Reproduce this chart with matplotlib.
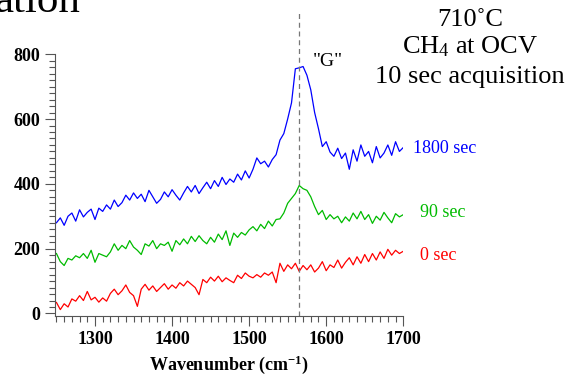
import numpy as np
import matplotlib
matplotlib.use('Agg')
import matplotlib.pyplot as plt
from matplotlib.ticker import MultipleLocator

plt.rcParams['font.family'] = ['Liberation Serif', 'DejaVu Serif']
plt.rcParams['mathtext.fontset'] = 'custom'
plt.rcParams['mathtext.rm'] = 'Liberation Serif'
plt.rcParams['mathtext.it'] = 'Liberation Serif:italic'
plt.rcParams['mathtext.bf'] = 'Liberation Serif:bold'

# Raman spectra, wavenumber 1250..1700 every 5 cm-1
wavenumber = np.arange(1250, 1701, 5)
spec_1800 = [280, 295, 272, 300, 310, 285, 320, 298, 312, 322,
             290, 325, 315, 335, 322, 350, 330, 342, 365, 350,
             372, 355, 368, 345, 380, 360, 340, 352, 375, 360,
             382, 365, 350, 372, 392, 375, 395, 370, 388, 405,
             385, 410, 392, 420, 398, 415, 405, 430, 412, 440,
             418, 445, 480, 462, 470, 452, 475, 490, 535, 555,
             600, 650, 755, 758, 762, 735, 690, 620, 570, 515,
             530, 498, 485, 510, 478, 495, 445, 505, 470, 520,
             485, 500, 465, 515, 480, 495, 520, 488, 530, 500,
             512]
spec_90 = [185, 160, 148, 170, 165, 178, 172, 185, 170, 195,
           158, 185, 180, 175, 190, 215, 195, 210, 200, 225,
           205, 195, 182, 215, 208, 225, 200, 215, 210, 220,
           192, 225, 212, 230, 215, 238, 222, 240, 225, 215,
           235, 220, 245, 228, 255, 210, 248, 235, 250, 242,
           258, 268, 255, 275, 262, 285, 270, 290, 292, 310,
           340, 355, 370, 395, 385, 380, 360, 330, 305, 318,
           290, 305, 292, 300, 280, 298, 285, 310, 292, 315,
           290, 305, 278, 300, 288, 312, 295, 280, 308, 298,
           305]
spec_0 = [34, 12, 30, 20, 45, 38, 55, 40, 68, 42,
          50, 35, 48, 38, 62, 75, 58, 70, 88, 65,
          55, 22, 75, 90, 72, 85, 68, 80, 92, 75,
          88, 78, 95, 85, 100, 90, 80, 58, 105, 95,
          112, 100, 115, 98, 110, 102, 95, 118, 108, 125,
          115, 110, 120, 112, 125, 118, 128, 95, 155, 130,
          150, 138, 155, 130, 148, 135, 150, 128, 140, 160,
          132, 150, 142, 165, 140, 158, 172, 150, 175, 155,
          182, 160, 185, 165, 190, 170, 198, 180, 195, 185,
          192]

series = [(spec_0, '#ff0000', '0 sec', 1722, 179),
          (spec_90, '#00bb00', '90 sec', 1722, 311),
          (spec_1800, '#0000ff', '1800 sec', 1713, 508)]
g_band = 1565

fig = plt.figure(figsize=(5.72, 3.79), dpi=100)
ax = fig.add_axes([0.096, 0.166, 0.609, 0.691])

for y, c, lab, lx, ly in series:
    ax.plot(wavenumber, y, color=c, lw=0.9)
    ax.text(lx, ly, lab, color=c, fontsize=13, va='center', ha='left', clip_on=False)

ax.plot([g_band, g_band], [-8, 935], ls=(0, (4, 3)), color='#777777', lw=0.9, clip_on=False)
ax.text(1583, 779, '"G"', fontsize=14, va='center', ha='left')

ax.set_xlim(1248, 1700)
ax.set_ylim(-8, 800)
ax.spines['top'].set_visible(False)
ax.spines['right'].set_visible(False)
ax.spines['left'].set_bounds(-8, 800)
for s in ('left', 'bottom'):
    ax.spines[s].set_color('#555555')
    ax.spines[s].set_linewidth(0.8)
ax.xaxis.set_major_locator(MultipleLocator(100))
ax.xaxis.set_minor_locator(MultipleLocator(10))
ax.yaxis.set_major_locator(MultipleLocator(200))
ax.yaxis.set_minor_locator(MultipleLocator(20))
ax.tick_params(which='major', length=7, width=0.8, color='#555555', direction='out')
ax.tick_params(which='minor', length=4, width=0.8, color='#555555', direction='out')
for t in ax.get_xticklabels() + ax.get_yticklabels():
    t.set_fontweight('bold')
    t.set_fontsize(13)
ax.set_xlabel(r'Wavenumber (cm$^{\mathbf{-1}}$)', fontsize=13, fontweight='bold', labelpad=4)

fig.text(-0.01, 0.968, 'ation', fontsize=31, ha='left', va='baseline')
fig.text(0.822, 0.947, '710˚C', fontsize=19, ha='center', va='center')
fig.text(0.822, 0.876, 'CH$_4$ at OCV', fontsize=19, ha='center', va='center')
fig.text(0.822, 0.797, '10 sec acquisition', fontsize=19, ha='center', va='center')

fig.savefig('out.png', dpi=100)
